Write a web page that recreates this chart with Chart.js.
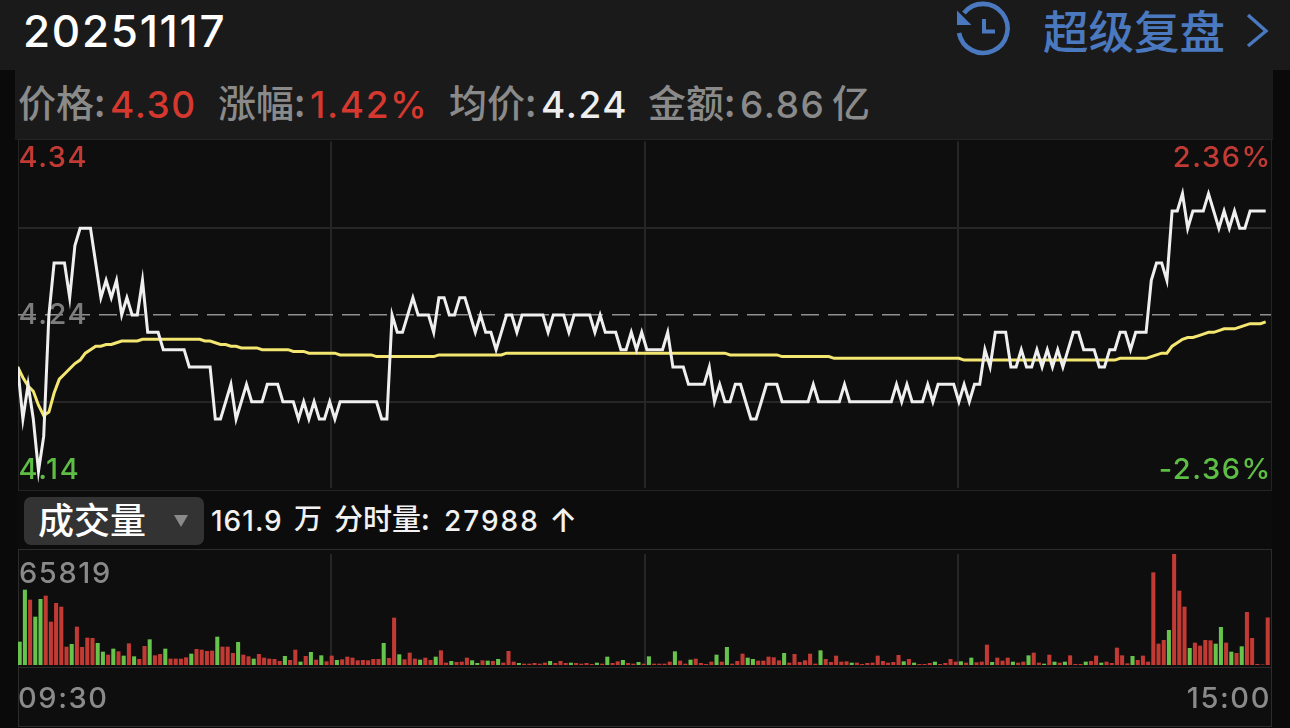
<!DOCTYPE html>
<html>
<head>
<meta charset="utf-8">
<script src="https://cdn.jsdelivr.net/npm/chart.js@4"></script>
<style>
    html, body { margin: 0; padding: 0; width: 1290px; height: 728px; overflow: hidden; background: #0a0a0a; }
    body { position: relative; font-family: Inter, 'Noto Sans CJK SC', sans-serif; }
    .box { position: absolute; box-sizing: border-box; }
    .txt { position: absolute; white-space: nowrap; line-height: 1; }
    .cn { font-family: 'Noto Sans CJK SC', sans-serif; }
    canvas { position: absolute; left: 0; }
    .gray { color: #8a8a8a; }
    .red { color: #d5382f; }
    .info { font-size: 37px; top: 86px; letter-spacing: 1.6px; font-weight: 500; }
    .info.cn { letter-spacing: 0; top: 82px; font-size: 38px; }
    .stat { font-size: 28px; top: 507px; color: #f2f2f2; font-weight: 500; }
</style>
</head>
<body>
<div class="box" style="left:0;top:0;width:1290px;height:70px;background:#1a1a1a"></div>
<div class="box" style="left:15px;top:70px;width:1258px;height:70px;background:#1a1a1a"></div>
<div class="box" style="left:18px;top:139px;width:1254px;height:352px;background:#0e0e0e;border:1.5px solid #242424"></div>
<div class="box" style="left:18px;top:491px;width:1254px;height:59px;background:#0c0c0c"></div>
<div class="box" style="left:18px;top:549px;width:1254px;height:119px;background:#0e0e0e;border:1.5px solid #2c2c2c"></div>
<div class="box" style="left:18px;top:667px;width:1254px;height:60px;background:#0e0e0e;border:1.5px solid #2c2c2c"></div>

<div class="txt" style="left:23px;top:9px;font-size:44px;font-weight:500;letter-spacing:1.7px;color:#fff">20251117</div>
<svg class="box" style="left:950px;top:0" width="340" height="64" fill="none" stroke="#4a79c0" stroke-width="4.6">
    <path d="M 14 13 A 24.5 24.5 0 1 1 9 33"/>
    <path d="M 8 13 L 8 24 L 19 24 Z" fill="#4a79c0" stroke-width="2"/>
    <path d="M 34 19 L 34 31.5 L 45 31.5" stroke-width="4"/>
    <path d="M 298 15 L 316 31 L 298 46" stroke-width="3.4"/>
</svg>
<div class="txt cn" style="left:1043px;top:7px;font-size:45.5px;font-weight:500;color:#4a79c0">超级复盘</div>

<div class="txt info cn gray" style="left:18px">价格:</div>
<div class="txt info red" style="left:110px">4.30</div>
<div class="txt info cn gray" style="left:218px">涨幅:</div>
<div class="txt info red" style="left:310px">1.42%</div>
<div class="txt info cn gray" style="left:449px">均价:</div>
<div class="txt info" style="left:541px;color:#eeeeee">4.24</div>
<div class="txt info cn gray" style="left:648px">金额:</div>
<div class="txt info gray" style="left:740px">6.86</div>
<div class="txt info cn gray" style="left:832px">亿</div>

<div class="box" style="left:24px;top:497px;width:180px;height:48px;background:#333333;border-radius:7px"></div>
<div class="txt cn" style="left:38px;top:500px;font-size:36px;font-weight:500;color:#fff">成交量</div>
<div class="box" style="left:174px;top:515px;width:0;height:0;border-left:7px solid transparent;border-right:7px solid transparent;border-top:12px solid #8a8a8a"></div>
<div class="txt stat" style="left:211px;letter-spacing:1px">161.9</div>
<div class="txt stat cn" style="left:294px;top:503px">万</div>
<div class="txt stat cn" style="left:334px;top:503px;font-size:29px">分时量:</div>
<div class="txt stat" style="left:444px;letter-spacing:2px">27988</div>
<div class="txt stat" style="left:549px;top:504px;font-size:33px">↑</div>

<canvas id="priceChart" width="1290" height="350" style="top:140px;width:1290px;height:350px"></canvas>
<canvas id="volumeChart" width="1290" height="178" style="top:549px;width:1290px;height:178px"></canvas>

<script>
const priceTicks = [4.34, 4.29, 4.24, 4.19, 4.14];
const prevClose = 4.24;
const leftLabels = ['4.34', '4.24', '4.14'];
const rightLabels = ['2.36%', '', '-2.36%'];
const labelValues = [4.34, 4.24, 4.14];
const timeLabels = ['09:30', '', '', '', '15:00'];
const volumeMax = 65819;

const prices = [
    4.21,4.18,4.20,4.18,4.15,4.17,4.24,4.27,4.27,4.27,
    4.25,4.28,4.29,4.29,4.29,4.27,4.25,4.26,4.25,4.26,
    4.24,4.25,4.24,4.24,4.26,4.23,4.23,4.23,4.22,4.22,
    4.22,4.22,4.22,4.21,4.21,4.21,4.21,4.21,4.18,4.18,
    4.19,4.20,4.18,4.19,4.20,4.19,4.19,4.19,4.20,4.20,
    4.20,4.19,4.19,4.19,4.18,4.19,4.18,4.19,4.18,4.18,
    4.19,4.18,4.19,4.19,4.19,4.19,4.19,4.19,4.19,4.19,
    4.18,4.18,4.24,4.23,4.23,4.24,4.25,4.24,4.24,4.24,
    4.23,4.25,4.25,4.24,4.24,4.25,4.25,4.24,4.23,4.24,
    4.23,4.23,4.22,4.23,4.24,4.24,4.23,4.24,4.24,4.24,
    4.24,4.24,4.23,4.24,4.24,4.24,4.23,4.24,4.24,4.24,
    4.24,4.23,4.24,4.23,4.23,4.23,4.22,4.22,4.23,4.22,
    4.23,4.22,4.22,4.22,4.22,4.23,4.21,4.21,4.21,4.20,
    4.20,4.20,4.20,4.21,4.19,4.20,4.19,4.19,4.20,4.20,
    4.19,4.18,4.18,4.19,4.20,4.20,4.20,4.19,4.19,4.19,
    4.19,4.19,4.19,4.20,4.19,4.19,4.19,4.19,4.19,4.20,
    4.19,4.19,4.19,4.19,4.19,4.19,4.19,4.19,4.19,4.20,
    4.19,4.20,4.19,4.19,4.19,4.20,4.19,4.20,4.20,4.20,
    4.20,4.19,4.20,4.19,4.20,4.20,4.22,4.21,4.23,4.23,
    4.23,4.21,4.21,4.22,4.21,4.21,4.22,4.21,4.22,4.21,
    4.22,4.21,4.22,4.23,4.23,4.22,4.22,4.22,4.21,4.21,
    4.22,4.22,4.23,4.23,4.22,4.23,4.23,4.23,4.26,4.27,
    4.27,4.26,4.30,4.30,4.31,4.29,4.30,4.30,4.30,4.31,
    4.30,4.29,4.30,4.29,4.30,4.29,4.29,4.30,4.30,4.30,4.30
];

const avgPrices = [
    4.210,4.204,4.199,4.196,4.188,4.182,4.184,4.195,4.203,4.206,
    4.209,4.212,4.214,4.218,4.220,4.222,4.222,4.223,4.223,4.224,
    4.225,4.225,4.225,4.225,4.226,4.226,4.226,4.226,4.226,4.226,
    4.226,4.226,4.226,4.226,4.226,4.226,4.225,4.225,4.224,4.223,
    4.223,4.222,4.222,4.221,4.221,4.221,4.221,4.220,4.220,4.220,
    4.220,4.220,4.220,4.219,4.219,4.219,4.218,4.218,4.218,4.218,
    4.218,4.218,4.217,4.217,4.217,4.217,4.217,4.217,4.217,4.216,
    4.216,4.216,4.216,4.216,4.216,4.216,4.216,4.216,4.216,4.216,
    4.216,4.217,4.217,4.217,4.217,4.217,4.217,4.217,4.217,4.217,
    4.217,4.217,4.217,4.217,4.218,4.218,4.218,4.218,4.218,4.218,
    4.218,4.218,4.218,4.218,4.218,4.218,4.218,4.218,4.218,4.218,
    4.218,4.218,4.218,4.218,4.218,4.218,4.218,4.218,4.218,4.218,
    4.218,4.218,4.218,4.218,4.218,4.218,4.218,4.218,4.218,4.218,
    4.218,4.218,4.218,4.218,4.218,4.218,4.218,4.217,4.217,4.217,
    4.217,4.217,4.217,4.217,4.217,4.217,4.217,4.216,4.216,4.216,
    4.216,4.216,4.216,4.216,4.216,4.216,4.216,4.215,4.215,4.215,
    4.215,4.215,4.215,4.215,4.215,4.215,4.215,4.215,4.215,4.215,
    4.215,4.215,4.215,4.215,4.215,4.215,4.215,4.215,4.215,4.215,
    4.215,4.215,4.214,4.214,4.214,4.214,4.214,4.214,4.214,4.214,
    4.214,4.214,4.214,4.214,4.214,4.214,4.214,4.214,4.214,4.214,
    4.214,4.214,4.214,4.214,4.214,4.214,4.214,4.214,4.214,4.214,
    4.214,4.214,4.215,4.215,4.215,4.215,4.215,4.215,4.216,4.217,
    4.218,4.218,4.222,4.224,4.226,4.227,4.227,4.228,4.229,4.230,
    4.230,4.231,4.232,4.232,4.232,4.233,4.234,4.235,4.235,4.235,4.236
];

const volumes = [
    13640,44470,38540,28460,38940,40920,25500,36570,34390,10670,
    12260,22530,10480,16010,15810,12850,7710,5930,9490,7910,
    5340,12650,4940,3360,11070,15020,5530,6330,9490,3560,
    3560,3560,4350,6520,9290,8890,8100,8300,16600,10670,
    10670,6920,13440,5930,4940,3560,6330,4150,3560,3360,
    2170,5140,2770,8890,1780,5140,7510,2960,5530,1980,
    5340,2770,3160,4740,4150,2570,2770,2570,3360,3360,
    12850,3950,27870,6130,3160,7120,3560,2960,4150,2770,
    4740,8500,1190,2170,1580,1780,4150,2570,990,2570,
    2370,2170,3360,1190,8100,1780,990,590,590,990,
    590,1190,2170,990,2170,990,1190,990,590,990,
    400,1190,590,4740,990,1980,2770,990,590,1580,
    590,4940,590,590,590,1780,7910,2370,590,2960,
    3560,990,400,1780,5930,1780,10480,590,2170,6520,
    4150,3360,2370,2370,4740,4350,2570,6920,1190,6330,
    1580,2570,6520,590,8500,3360,1580,5340,1780,1980,
    1190,1190,400,990,1190,5340,2170,1190,1580,5730,
    1980,3360,1190,400,400,990,1780,400,990,3360,
    1780,1980,1190,4150,1380,1780,11860,1580,4150,2370,
    4150,1780,1190,1780,5530,7120,1190,590,5930,1780,
    1190,1780,5530,400,400,1780,2170,5340,1190,1780,
    990,10080,5530,790,5140,2770,5340,1780,54750,12450,
    14630,20560,65819,43880,34390,9880,13050,11270,14630,14430,
    12450,22340,13050,7710,6920,10870,31230,15810,400,100,27988
];

// minutes where the volume bar is a falling one
const fallingMinutes = [
    0,1,3,4,10,15,16,18,20,22,25,28,33,38,42,45,51,54,56,58,61,70,73,77,80,83,87,88,90,92,96,
    102,106,111,113,116,119,121,126,129,134,136,140,141,147,154,160,170,172,176,181,183,187,
    191,194,197,199,201,205,208,214,221,225,230,231,233,235
];

const gridColor = '#262626';
const dashColor = '#8f8f8f';
const redColor = '#c23a34';
const greenColor = '#66c44c';
const labelFont = "500 29px Inter";

function toPoints(values) {
    return values.map((v, i) => ({ x: i, y: v }));
}

function quarterTicks(scale) {
    const step = (scale.max - scale.min) / 4;
    scale.ticks = [0, 1, 2, 3, 4].map(k => ({ value: scale.min + step * k }));
}

// keeps the wide spacing of the app's digits on everything drawn on the canvas
const spacedText = {
    id: 'spacedText',
    beforeDraw(chart) {
        chart.ctx.letterSpacing = '1.6px';
    }
};

const priceLabels = {
    id: 'priceLabels',
    beforeDatasetsDraw(chart) {
        const { ctx, chartArea, scales } = chart;
        const inset = [17, 0, -18];
        const colors = [redColor, '#7d7d7d', '#5dbd45'];
        ctx.save();
        ctx.font = labelFont;
        ctx.textBaseline = 'middle';
        labelValues.forEach((v, i) => {
            const y = scales.y.getPixelForValue(v) + inset[i];
            ctx.fillStyle = colors[i];
            ctx.textAlign = 'left';
            ctx.fillText(leftLabels[i], chartArea.left + 0.5, y);
            ctx.textAlign = 'right';
            ctx.fillText(rightLabels[i], chartArea.right + 1, y);
        });
        ctx.restore();
    }
};

new Chart(document.getElementById('priceChart'), {
    type: 'line',
    data: {
        datasets: [
            { data: toPoints(avgPrices), borderColor: '#f3e671', borderWidth: 3, pointRadius: 0, tension: 0, order: 2 },
            { data: toPoints(prices), borderColor: '#efefef', borderWidth: 3, pointRadius: 0, tension: 0, borderJoinStyle: 'miter', order: 1 }
        ]
    },
    options: {
        responsive: false,
        animation: false,
        events: [],
        layout: { padding: { left: 18, right: 19, top: 1.6, bottom: 1.6 } },
        plugins: { legend: { display: false }, tooltip: { enabled: false } },
        scales: {
            x: {
                type: 'linear',
                min: 0.058,
                max: 241.02,
                afterBuildTicks: quarterTicks,
                ticks: { display: false },
                border: { display: false },
                grid: {
                    drawTicks: false,
                    lineWidth: 2,
                    color: c => (c.index % 4 === 0 ? 'transparent' : gridColor)
                }
            },
            y: {
                min: 4.14,
                max: 4.34,
                afterBuildTicks: scale => { scale.ticks = priceTicks.map(v => ({ value: v })); },
                ticks: { display: false },
                border: {
                    display: false,
                    dash: c => (c.tick && c.tick.value === prevClose ? [18, 9] : [])
                },
                grid: {
                    drawTicks: false,
                    lineWidth: c => (c.tick && c.tick.value === prevClose ? 1.6 : 2),
                    color: c => {
                        if (c.index === 0 || c.index === 4) return 'transparent';
                        return c.tick.value === prevClose ? dashColor : gridColor;
                    }
                }
            }
        }
    },
    plugins: [spacedText, priceLabels]
});

new Chart(document.getElementById('volumeChart'), {
    type: 'bar',
    data: {
        datasets: [{
            data: toPoints(volumes),
            backgroundColor: volumes.map((v, i) => (fallingMinutes.includes(i) ? greenColor : redColor)),
            barThickness: 3.4
        }]
    },
    options: {
        responsive: false,
        animation: false,
        events: [],
        layout: { padding: { left: 16, right: 19, top: 5, bottom: 0 } },
        plugins: { legend: { display: false }, tooltip: { enabled: false } },
        scales: {
            x: {
                type: 'linear',
                offset: false,
                min: -0.327,
                max: 240.63,
                afterBuildTicks: quarterTicks,
                afterFit: scale => { scale.height = 62; },
                border: { display: false },
                grid: {
                    offset: false,
                    drawTicks: false,
                    lineWidth: 2,
                    color: c => (c.index % 4 === 0 ? 'transparent' : gridColor)
                },
                ticks: {
                    autoSkip: false,
                    maxRotation: 0,
                    align: 'inner',
                    padding: 17,
                    color: '#8a8a8a',
                    font: { family: 'Inter', size: 29, weight: 500 },
                    callback: (value, index) => timeLabels[index]
                }
            },
            y: {
                min: 0,
                max: volumeMax,
                afterBuildTicks: scale => { scale.ticks = [{ value: volumeMax }]; },
                border: { display: false },
                grid: { display: false, drawTicks: false },
                ticks: {
                    mirror: true,
                    align: 'start',
                    padding: 1,
                    labelOffset: 6,
                    color: '#8a8a8a',
                    font: { family: 'Inter', size: 29, weight: 500 },
                    callback: value => String(value)
                }
            }
        }
    },
    plugins: [spacedText]
});
</script>
</body>
</html>
